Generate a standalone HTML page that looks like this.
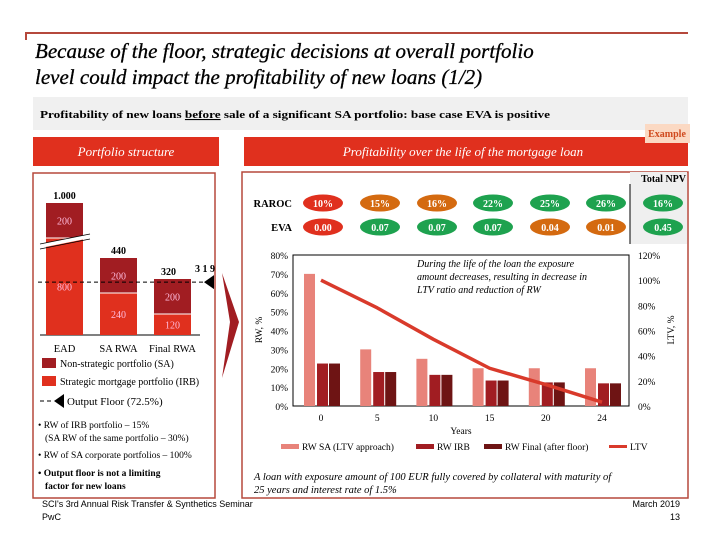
<!DOCTYPE html>
<html><head><meta charset="utf-8"><style>
body{margin:0;background:#fff;}
svg{display:block;font-family:"Liberation Serif",serif;}
</style></head><body>
<svg width="720" height="540" viewBox="0 0 720 540">
<path d="M26 40 V33 H688" fill="none" stroke="#b5483c" stroke-width="2"/>
<text x="35" y="58" font-size="21" font-style="italic" stroke="#000" stroke-width="0.3">Because of the floor, strategic decisions at overall portfolio</text>
<text x="35" y="84" font-size="21" font-style="italic" stroke="#000" stroke-width="0.3">level could impact the profitability of new loans (1/2)</text>
<rect x="33" y="97" width="655" height="33" fill="#f0f0f0"/>
<text x="40" y="118" font-size="11" font-weight="bold" textLength="510" lengthAdjust="spacingAndGlyphs">Profitability of new loans <tspan text-decoration="underline">before</tspan> sale of a significant SA portfolio: base case EVA is positive</text>
<rect x="33" y="137" width="186" height="29" fill="#e0301e"/>
<text x="126" y="156" font-size="13" font-style="italic" fill="#fff" text-anchor="middle">Portfolio structure</text>
<rect x="244" y="137" width="444" height="29" fill="#e0301e"/>
<text x="463" y="156" font-size="13" font-style="italic" fill="#fff" text-anchor="middle">Profitability over the life of the mortgage loan</text>
<rect x="645" y="124" width="45" height="19" fill="#fbd9c3"/>
<text x="667" y="137" font-size="10" font-weight="bold" fill="#d04a1e" text-anchor="middle">Example</text>
<rect x="33" y="173" width="182" height="325" fill="none" stroke="#b5483c" stroke-width="1.5"/>
<rect x="242" y="172" width="446" height="326" fill="none" stroke="#b5483c" stroke-width="1.5"/>
<path d="M222 273 L239 322 L222 378 L230 322 Z" fill="#a11d22"/>

<g id="left"></g>
<g id="table"></g>
<g id="chart"></g>

<g font-size="10">
<rect x="42" y="358" width="14" height="10" fill="#a11d22"/>
<text x="60" y="367">Non-strategic portfolio (SA)</text>
<rect x="42" y="376" width="14" height="10" fill="#e0301e"/>
<text x="60" y="385">Strategic mortgage portfolio (IRB)</text>
<line x1="40" y1="401" x2="54" y2="401" stroke="#000" stroke-dasharray="4,3"/>
<path d="M54 401 L64 394 L64 408 Z" fill="#000"/>
<text x="67" y="405" font-size="11">Output Floor (72.5%)</text>
</g>
<g font-size="9.5">
<text x="38" y="428">• RW of IRB portfolio – 15%</text>
<text x="45" y="441">(SA RW of the same portfolio – 30%)</text>
<text x="38" y="458">• RW of SA corporate portfolios – 100%</text>
<text x="38" y="476" font-weight="bold">• Output floor is not a limiting</text>
<text x="45" y="489" font-weight="bold">factor for new loans</text>
</g>
<g font-size="10.5" font-style="italic">
<text x="254" y="480">A loan with exposure amount of 100 EUR fully covered by collateral with maturity of</text>
<text x="254" y="493">25 years and interest rate of 1.5%</text>
</g>
<g font-family="Liberation Sans, sans-serif" font-size="9">
<text x="42" y="507">SCI's 3rd Annual Risk Transfer &amp; Synthetics Seminar</text>
<text x="42" y="520">PwC</text>
<text x="680" y="507" text-anchor="end">March 2019</text>
<text x="680" y="520" text-anchor="end">13</text>
</g>
</svg>
<script>
// ---------- Left portfolio chart ----------
const portCats=['EAD','SA RWA','Final RWA'];
const portSA=[200,200,200];
const portIRB=[800,240,120];
const portTotals=['1.000','440','320'];
const floorValue=319;
const NS='http://www.w3.org/2000/svg';
function mk(p,tag,attrs,txt){const e=document.createElementNS(NS,tag);for(const k in attrs)e.setAttribute(k,attrs[k]);if(txt!==undefined)e.textContent=txt;p.appendChild(e);return e;}
(function(){
 const g=document.getElementById('left');
 const base=335, sc=0.175;
 const xs=[46,100,154], bw=37;
 const ly=v=>base-v*sc;
 mk(g,'line',{x1:40,y1:base,x2:200,y2:base,stroke:'#000'});
 for(let i=0;i<portCats.length;i++){
  let irbH=portIRB[i]*sc, saH=portSA[i]*sc;
  if(i===0){irbH=97; saH=35;} // broken axis for EAD
  const r1=mk(g,'rect',{x:xs[i],y:base-irbH,width:bw,height:irbH,fill:'#e0301e'});
  
  
  const r2=mk(g,'rect',{x:xs[i],y:base-irbH-saH,width:bw,height:saH,fill:'#a11d22'});
  
  
  mk(g,'line',{x1:xs[i],x2:xs[i]+bw,y1:base-irbH,y2:base-irbH,stroke:'#fff','stroke-width':1});
  mk(g,'text',{x:xs[i]+bw/2,y:base-irbH/2+4,'font-size':10,fill:'#fbd','text-anchor':'middle'},String(portIRB[i]));
  mk(g,'text',{x:xs[i]+bw/2,y:base-irbH-saH/2+4,'font-size':10,fill:'#fbd','text-anchor':'middle'},String(portSA[i]));
  const t=mk(g,'text',{x:xs[i]+bw/2-(i===2?4:0),y:base-irbH-saH-4,'font-size':10,'font-weight':'bold','text-anchor':'middle'},portTotals[i]);
  
  
  const l=mk(g,'text',{x:xs[i]+bw/2,y:352,'font-size':10.5,'text-anchor':'middle'},portCats[i]);
  
  
 }
 mk(g,'path',{d:'M40 246 L90 236',stroke:'#fff','stroke-width':4});
 mk(g,'path',{d:'M40 244 L90 234 M40 249 L90 239',stroke:'#000','stroke-width':0.7});
 const fy=ly(floorValue)+3;
 const fl=mk(g,'line',{x1:38,y1:fy,x2:210,y2:fy,stroke:'#000','stroke-dasharray':'4,3'});
 
 
 mk(g,'path',{d:`M204 ${fy} L214 ${fy-7} L214 ${fy+7} Z`,fill:'#000'});
 mk(g,'text',{x:205,y:fy-10,'font-size':10,'font-weight':'bold','text-anchor':'middle'},String(floorValue).split('').join(' '));
})();

// ---------- Profitability table ----------
const tableCols=['0','5','10','15','20','24','Total NPV'];
const rarocVals=['10%','15%','16%','22%','25%','26%','16%'];
const rarocColors=['r','o','o','g','g','g','g'];
const evaVals=['0.00','0.07','0.07','0.07','0.04','0.01','0.45'];
const evaColors=['r','g','g','g','o','o','g'];
(function(){
 const g=document.getElementById('table');
 const col={r:'#e0301e',o:'#d46a10',g:'#1ea24f'};
 mk(g,'rect',{x:630,y:172,width:57,height:72,fill:'#efefef'});
 mk(g,'line',{x1:630,y1:184,x2:630,y2:244,stroke:'#000'});
 mk(g,'text',{x:686,y:182,'font-size':10,'font-weight':'bold','text-anchor':'end'},'Total NPV');
 mk(g,'text',{x:292,y:207,'font-size':10.5,'font-weight':'bold','text-anchor':'end'},'RAROC');
 mk(g,'text',{x:292,y:231,'font-size':10.5,'font-weight':'bold','text-anchor':'end'},'EVA');
 const cx=[323,380,437,493,550,606,663];
 for(let i=0;i<tableCols.length;i++){
  const e1=mk(g,'ellipse',{cx:cx[i],cy:203,rx:20,ry:8.5,fill:col[rarocColors[i]]});
  
  
  mk(g,'text',{x:cx[i],y:207,'font-size':10,'font-weight':'bold',fill:'#fff','text-anchor':'middle'},rarocVals[i]);
  const e2=mk(g,'ellipse',{cx:cx[i],cy:227,rx:20,ry:8.5,fill:col[evaColors[i]]});
  
  
  mk(g,'text',{x:cx[i],y:231,'font-size':10,'font-weight':'bold',fill:'#fff','text-anchor':'middle'},evaVals[i]);
 }
})();

// ---------- RW / LTV chart ----------
const years=['0','5','10','15','20','24'];
const rwSA=[70,30,25,20,20,20];
const rwIRB=[22.5,18,16.5,13.5,12.5,12];
const rwFinal=[22.5,18,16.5,13.5,12.5,12];
const ltv=[100,78,53,30,17,3];
const leftTicks=[0,10,20,30,40,50,60,70,80];
const rightTicks=[0,20,40,60,80,100,120];
(function(){
 const g=document.getElementById('chart');
 const x0=293,x1=629,yT=255,yB=406;
 const yL=v=>yB-(v/80)*(yB-yT);
 const yR=v=>yB-(v/120)*(yB-yT);
 const xC=i=>321+i*56.2;
 mk(g,'rect',{x:x0,y:yT,width:x1-x0,height:yB-yT,fill:'none',stroke:'#000','stroke-width':1});
 leftTicks.forEach(t=>{mk(g,'text',{x:288,y:yL(t)+4,'font-size':9.5,'text-anchor':'end'},t+'%');});
 rightTicks.forEach(t=>{mk(g,'text',{x:638,y:yR(t)+4,'font-size':9.5},t+'%');});
 mk(g,'text',{x:262,y:330,'font-size':9.5,'text-anchor':'middle',transform:'rotate(-90 262 330)'},'RW, %');
 mk(g,'text',{x:674,y:330,'font-size':9.5,'text-anchor':'middle',transform:'rotate(-90 674 330)'},'LTV, %');
 for(let i=0;i<years.length;i++){
  const c=xC(i);
  const b1=mk(g,'rect',{x:c-17,y:yL(rwSA[i]),width:11,height:yB-yL(rwSA[i]),fill:'#e8837a'});
  
  
  const b2=mk(g,'rect',{x:c-4,y:yL(rwIRB[i]),width:11,height:yB-yL(rwIRB[i]),fill:'#a11d22'});
  
  
  const b3=mk(g,'rect',{x:c+8,y:yL(rwFinal[i]),width:11,height:yB-yL(rwFinal[i]),fill:'#6e1414'});
  
  
  mk(g,'text',{x:c,y:421,'font-size':9.5,'text-anchor':'middle'},years[i]);
 }
 const pts=ltv.map((v,i)=>xC(i)+','+yR(v)).join(' ');
 const pl=mk(g,'polyline',{points:pts,fill:'none',stroke:'#d93a2b','stroke-width':3.5,'stroke-linejoin':'round'});
 
 
 mk(g,'text',{x:461,y:434,'font-size':9.5,'text-anchor':'middle'},'Years');
 const ann=['During the life of the loan the exposure','amount decreases, resulting in decrease in','LTV ratio and reduction of RW'];
 ann.forEach((s,k)=>mk(g,'text',{x:417,y:267+k*13,'font-size':10,'font-style':'italic'},s));
 const leg=[['RW SA (LTV approach)','#e8837a',281,'rect'],['RW IRB','#a11d22',416,'rect'],['RW Final (after floor)','#6e1414',484,'rect'],['LTV','#d93a2b',609,'line']];
 leg.forEach(l=>{
  mk(g,'rect',{x:l[2],y:l[3]==='rect'?444:445,width:18,height:l[3]==='rect'?5:3,fill:l[1]});
  const t=mk(g,'text',{x:l[2]+21,y:450,'font-size':9.5},l[0]);
  
  
 });
})();
</script>
</body></html>
